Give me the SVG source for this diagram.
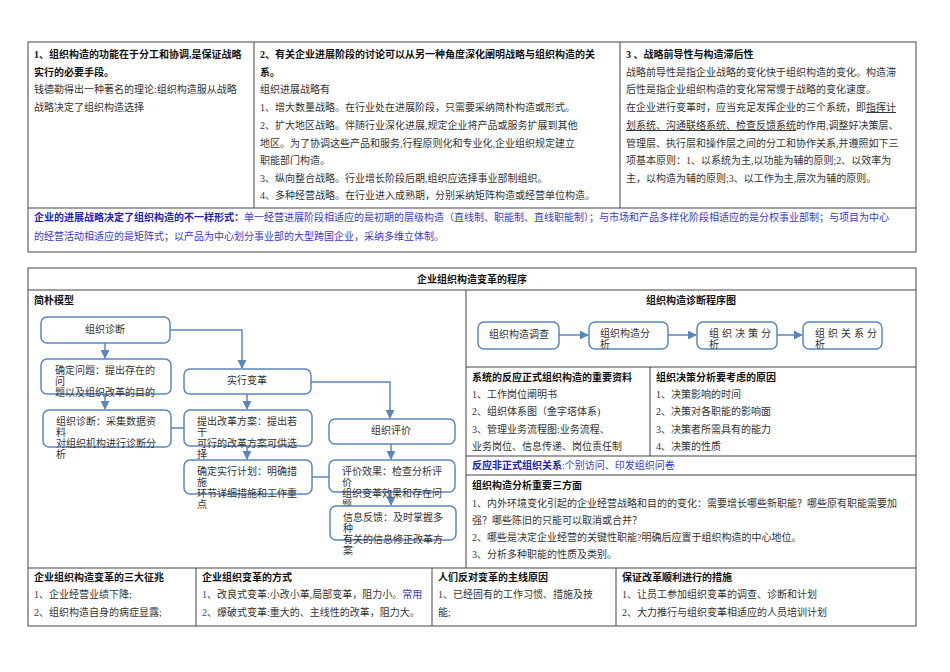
<svg xmlns="http://www.w3.org/2000/svg" width="950" height="672" viewBox="0 0 950 672">
<defs>
<marker id="ar" viewBox="0 0 10 10" refX="9" refY="5" markerWidth="6" markerHeight="6" orient="auto"><path d="M0,0L10,5L0,10z" fill="#5b86bd"/></marker>
</defs>
<style>
text{font-family:"Liberation Serif","Noto Sans CJK SC",serif;font-size:10px;fill:#333}
.b{font-weight:bold;fill:#111}
.u{fill:#3a3ac8}
.ub{fill:#2222bb;font-weight:bold}
.c{text-anchor:middle}
.g{fill:none;stroke:#444;stroke-width:1}
.bx{fill:#fff;stroke:#5b86bd;stroke-width:1.5}
.cn{fill:none;stroke:#5b86bd;stroke-width:1.5}
</style>
<rect width="950" height="672" fill="#fff"/>
<g id="table1">
<rect class="g" x="28" y="42" width="888" height="210"/>
<line class="g" x1="254" y1="42" x2="254" y2="208"/>
<line class="g" x1="620" y1="42" x2="620" y2="208"/>
<line class="g" x1="28" y1="208" x2="916" y2="208"/>
<text class="b" x="34" y="58">1、组织构造的功能在于分工和协调,是保证战略</text>
<text class="b" x="34" y="76">实行的必要手段。</text>
<text x="34" y="93">钱德勒得出一种著名的理论:组织构造服从战略</text>
<text x="34" y="111">战略决定了组织构造选择</text>
<text class="b" x="260" y="58">2、有关企业进展阶段的讨论可以从另一种角度深化阐明战略与组织构造的关</text>
<text class="b" x="260" y="76">系。</text>
<text x="260" y="93">组织进展战略有</text>
<text x="260" y="111">1、增大数量战略。在行业处在进展阶段，只需要采纳简朴构造或形式。</text>
<text x="260" y="129">2、扩大地区战略。伴随行业深化进展,规定企业将产品或服务扩展到其他</text>
<text x="260" y="147">地区。为了协调这些产品和服务,行程原则化和专业化,企业组织规定建立</text>
<text x="260" y="164">职能部门构造。</text>
<text x="260" y="182">3、纵向整合战略。行业增长阶段后期,组织应选择事业部制组织。</text>
<text x="260" y="199">4、多种经营战略。在行业进入成熟期，分别采纳矩阵构造或经营单位构造。</text>
<text class="b" x="626" y="58">3 、战略前导性与构造滞后性</text>
<text x="626" y="76">战略前导性是指企业战略的变化快于组织构造的变化。构造滞</text>
<text x="626" y="93">后性是指企业组织构造的变化常常慢于战略的变化速度。</text>
<text x="626" y="111">在企业进行变革时，应当充足发挥企业的三个系统，即<tspan text-decoration="underline">指挥计</tspan></text>
<text x="626" y="129"><tspan text-decoration="underline">划系统、沟通联络系统、检查反馈系统</tspan>的作用,调整好决策层、</text>
<text x="626" y="147">管理层、执行层和操作层之间的分工和协作关系,并遵照如下三</text>
<text x="626" y="164">项基本原则：1、以系统为主,以功能为辅的原则;2、以效率为</text>
<text x="626" y="182">主，以构造为辅的原则;3、以工作为主,层次为辅的原则。</text>
<text x="34" y="221"><tspan class="ub">企业的进展战略决定了组织构造的不一样形式：</tspan><tspan class="u">单一经营进展阶段相适应的是初期的层级构造（直线制、职能制、直线职能制）；与市场和产品多样化阶段相适应的是分权事业部制；与项目为中心</tspan></text>
<text class="u" x="34" y="240">的经营活动相适应的是矩阵式；以产品为中心划分事业部的大型跨国企业，采纳多维立体制。</text>
</g>
<g id="table2">
<rect class="g" x="28" y="268" width="888" height="358"/>
<line class="g" x1="28" y1="290" x2="916" y2="290"/>
<line class="g" x1="466" y1="290" x2="466" y2="568"/>
<line class="g" x1="466" y1="367" x2="916" y2="367"/>
<line class="g" x1="650" y1="367" x2="650" y2="456"/>
<line class="g" x1="466" y1="456" x2="916" y2="456"/>
<line class="g" x1="466" y1="475" x2="916" y2="475"/>
<line class="g" x1="28" y1="568" x2="916" y2="568"/>
<line class="g" x1="196" y1="568" x2="196" y2="626"/>
<line class="g" x1="432" y1="568" x2="432" y2="626"/>
<line class="g" x1="616" y1="568" x2="616" y2="626"/>
<text class="b c" x="472" y="283">企业组织构造变革的程序</text>
<text class="b" x="34" y="304">简朴模型</text>
<text class="b c" x="691" y="304">组织构造诊断程序图</text>
<text class="b" x="472" y="381">系统的反应正式组织构造的重要资料</text>
<text x="472" y="398">1、工作岗位阐明书</text>
<text x="472" y="415">2、组织体系图（金字塔体系)</text>
<text x="472" y="433">3、管理业务流程图:业务流程、</text>
<text x="472" y="450">业务岗位、信息传递、岗位责任制</text>
<text class="b" x="656" y="381">组织决策分析要考虑的原因</text>
<text x="656" y="398">1、决策影响的时间</text>
<text x="656" y="415">2、决策对各职能的影响面</text>
<text x="656" y="433">3、决策者所需具有的能力</text>
<text x="656" y="450">4、决策的性质</text>
<text x="472" y="469"><tspan class="ub">反应非正式组织关系</tspan><tspan class="u">:个别访问、印发组织问卷</tspan></text>
<text class="b" x="472" y="489">组织构造分析重要三方面</text>
<text x="472" y="507">1、内外环境变化引起的企业经营战略和目的的变化：需要增长哪些新职能？哪些原有职能需要加</text>
<text x="472" y="524">强？哪些陈旧的只能可以取消或合并？</text>
<text x="472" y="541">2、哪些是决定企业经营的关键性职能?明确后应置于组织构造的中心地位。</text>
<text x="472" y="558">3、分析多种职能的性质及类别。</text>
<text class="b" x="34" y="581">企业组织构造变革的三大征兆</text>
<text x="34" y="598">1、企业经营业绩下降;</text>
<text x="34" y="616">2、组织构造自身的病症显露;</text>
<text class="b" x="202" y="581">企业组织变革的方式</text>
<text x="202" y="598"><tspan class="u">1</tspan>、改良式变革:小改小革,局部变革，阻力小。<tspan class="u">常用</tspan></text>
<text x="202" y="616"><tspan class="u">2</tspan>、爆破式变革:重大的、主线性的改革，阻力大。</text>
<text class="b" x="438" y="581">人们反对变革的主线原因</text>
<text x="438" y="598">1、已经固有的工作习惯、措施及技</text>
<text x="438" y="616">能;</text>
<text class="b" x="622" y="581">保证改革顺利进行的措施</text>
<text x="622" y="598">1、让员工参加组织变革的调查、诊断和计划</text>
<text x="622" y="616">2、大力推行与组织变革相适应的人员培训计划</text>
</g>
<g id="connectors">
<path class="cn" d="M105,343V358" marker-end="url(#ar)"/>
<path class="cn" d="M170,330H242V368" marker-end="url(#ar)"/>
<path class="cn" d="M105,394V409" marker-end="url(#ar)"/>
<path class="cn" d="M311,382H390V418" marker-end="url(#ar)"/>
<path class="cn" d="M247,394V409" marker-end="url(#ar)"/>
<path class="cn" d="M247,446V459" marker-end="url(#ar)"/>
<path class="cn" d="M391,444V459" marker-end="url(#ar)"/>
<path class="cn" d="M391,492V505" marker-end="url(#ar)"/>
<path class="cn" d="M171,428H184"/>
<path class="cn" d="M312,477H329"/>
<path class="cn" d="M559,335H588" marker-end="url(#ar)"/>
<path class="cn" d="M668,335H696" marker-end="url(#ar)"/>
<path class="cn" d="M777,335H802" marker-end="url(#ar)"/>
</g>
<g id="n1"><rect class="bx" x="41" y="317" width="129" height="26" rx="6"/><text class="c" x="105" y="333">组织诊断</text></g>
<g id="n2"><rect class="bx" x="41" y="359" width="130" height="35" rx="6"/><text x="55" y="374">确定问题：提出存在的</text><text x="55" y="385">问</text><text x="55" y="396">题以及组织改革的目的</text></g>
<g id="n3"><rect class="bx" x="43" y="410" width="128" height="37" rx="6"/><text x="56" y="425">组织诊断：采集数据资</text><text x="56" y="436">料</text><text x="56" y="447">对组织机构进行诊断分</text><text x="56" y="458">析</text></g>
<g id="n4"><rect class="bx" x="184" y="369" width="127" height="25" rx="6"/><text class="c" x="247" y="384">实行变革</text></g>
<g id="n5"><rect class="bx" x="184" y="410" width="128" height="36" rx="6"/><text x="197" y="425">提出改革方案：提出若</text><text x="197" y="436">干</text><text x="197" y="447">可行的改革方案可供选</text><text x="197" y="458">择</text></g>
<g id="n6"><rect class="bx" x="184" y="460" width="128" height="34" rx="6"/><text x="197" y="475">确定实行计划：明确措</text><text x="197" y="486">施</text><text x="197" y="497">环节详细措施和工作重</text><text x="197" y="508">点</text></g>
<g id="n7"><rect class="bx" x="329" y="419" width="126" height="25" rx="6"/><text class="c" x="391" y="434">组织评价</text></g>
<g id="n8"><rect class="bx" x="329" y="460" width="126" height="32" rx="6"/><text x="342" y="475">评价效果：检查分析评</text><text x="342" y="486">价</text><text x="342" y="497">组织变革效果和存在问</text><text x="342" y="508">题</text></g>
<g id="n9"><rect class="bx" x="330" y="506" width="126" height="34" rx="6"/><text x="343" y="521">信息反馈：及时掌握多</text><text x="343" y="532">种</text><text x="343" y="543">有关的信息修正改革方</text><text x="343" y="554">案</text></g>
<g id="d1"><rect class="bx" x="478" y="322" width="81" height="27" rx="6"/><text x="489" y="338">组织构造调查</text></g>
<g id="d2"><rect class="bx" x="589" y="322" width="79" height="27" rx="6"/><text x="600" y="337">组织构造分</text><text x="600" y="348">析</text></g>
<g id="d3"><rect class="bx" x="697" y="322" width="80" height="27" rx="6"/><text x="709" y="337" letter-spacing="3">组织决策分</text><text x="709" y="348">析</text></g>
<g id="d4"><rect class="bx" x="803" y="322" width="79" height="27" rx="6"/><text x="815" y="337" letter-spacing="3">组织关系分</text><text x="815" y="348">析</text></g>
</svg>
